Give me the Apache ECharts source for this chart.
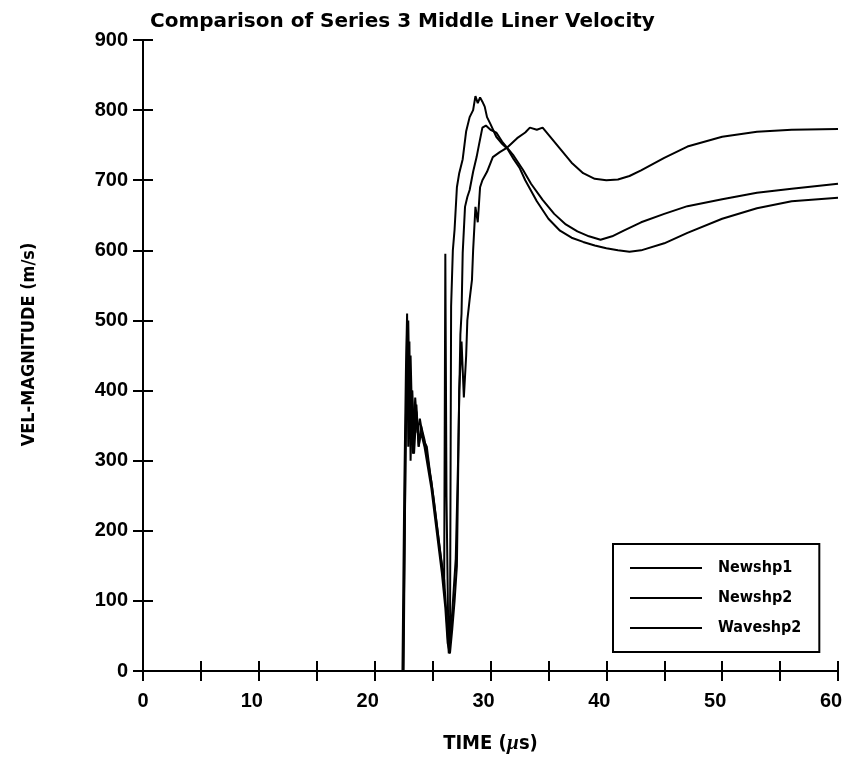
<!DOCTYPE html>
<html>
<head>
<meta charset="utf-8">
<script src="https://cdn.jsdelivr.net/npm/echarts@6/dist/echarts.min.js"></script>
<style>html,body{margin:0;padding:0;background:#fff;}#c{width:848px;height:762px;}</style>
</head>
<body>
<div id="c"></div>
<script>
const titleText = 'Comparison of Series 3 Middle Liner Velocity';
const xName = 'TIME';
const yName = 'VEL-MAGNITUDE (m/s)';
const seriesNames = ['Newshp1', 'Newshp2', 'Waveshp2'];

const timeN1 = [0, 22.4, 22.55, 22.7, 22.8, 22.9, 23.0, 23.1, 23.25, 23.4, 23.6, 23.8, 24.0, 24.3, 24.6, 24.9, 25.2, 25.5, 25.8, 26.0, 26.1, 26.2, 26.35, 26.5, 26.6, 26.75, 26.9, 27.1, 27.3, 27.6, 27.9, 28.2, 28.5, 28.7, 28.9, 29.1, 29.3, 29.5, 29.7, 30.0, 30.5, 31.0, 31.5, 32.0, 32.5, 33.0, 34.0, 35.0, 36.0, 37.0, 38.0, 39.0, 40.0, 41.0, 42.0, 43.0, 45.0, 47.0, 50.0, 53.0, 56.0, 60.0];
const velN1  = [0, 0, 250, 430, 510, 320, 470, 300, 400, 330, 380, 320, 350, 330, 300, 270, 230, 190, 150, 120, 595, 250, 60, 30, 520, 600, 630, 690, 710, 730, 770, 790, 800, 820, 810, 818, 812, 805, 790, 780, 762, 752, 744, 730, 718, 700, 670, 645, 628, 618, 612, 607, 603, 600, 598, 600, 610, 625, 645, 660, 670, 675];

const timeN2 = [0, 22.5, 22.65, 22.8, 22.95, 23.1, 23.3, 23.5, 23.7, 23.9, 24.2, 24.5, 24.8, 25.1, 25.4, 25.7, 26.0, 26.2, 26.4, 26.6, 26.8, 27.0, 27.2, 27.4, 27.5, 27.6, 27.8, 28.0, 28.2, 28.5, 28.8, 29.0, 29.3, 29.6, 30.0, 30.5, 31.0, 31.5, 32.0, 32.8, 33.5, 34.5, 35.5, 36.5, 37.5, 38.5, 39.5, 40.5, 41.5, 43, 45, 47, 50, 53, 56, 60];
const velN2  = [0, 0, 300, 490, 360, 450, 310, 390, 340, 360, 330, 320, 280, 245, 205, 165, 130, 80, 25, 60, 110, 160, 300, 480, 510, 596, 662, 676, 686, 712, 733, 750, 775, 778, 772, 768, 755, 745, 735, 715, 695, 672, 652, 637, 627, 620, 615, 620, 628, 640, 652, 663, 673, 682, 688, 695];

const timeW2 = [0, 22.45, 22.6, 22.75, 22.9, 23.05, 23.2, 23.4, 23.6, 23.8, 24.0, 24.3, 24.6, 24.9, 25.2, 25.5, 25.8, 26.1, 26.3, 26.5, 26.7, 26.9, 27.1, 27.3, 27.5, 27.7, 27.9, 28.0, 28.2, 28.4, 28.5, 28.7, 28.9, 29.1, 29.3, 29.7, 30.2, 30.8, 31.4, 32.3, 33.0, 33.4, 34.0, 34.5, 35.0, 36.0, 37.0, 38.0, 39.0, 40.0, 41.0, 42.0, 43.0, 45.0, 47.0, 50.0, 53.0, 56.0, 60.0];
const velW2  = [0, 0, 200, 420, 500, 340, 400, 310, 370, 320, 340, 320, 290, 260, 220, 180, 140, 90, 40, 25, 60, 100, 150, 400, 470, 390, 450, 500, 530, 558, 600, 662, 640, 690, 700, 712, 733, 740, 746, 760, 768, 775, 772, 775, 765, 745, 725, 710, 702, 700, 701, 706, 714, 732, 748, 762, 769, 772, 773];

const xTicks = [0, 10, 20, 30, 40, 50, 60];
const yTicks = [0, 100, 200, 300, 400, 500, 600, 700, 800, 900];

const pair = (ts, vs) => ts.map((t, i) => [t, vs[i]]);
const condensed = '"DejaVu Sans Condensed", "Liberation Sans Narrow", "DejaVu Sans", sans-serif';
const wideFont = '"DejaVu Sans", "Liberation Sans", sans-serif';
const numFont = '"Liberation Sans", Arial, sans-serif';

const chart = echarts.init(document.getElementById('c'), null, {renderer: 'canvas'});
const axisLine = {show: true, lineStyle: {color: '#000', width: 2}};
const axisTick = {show: true, inside: true, length: 10, lineStyle: {color: '#000', width: 2}};

const mkSeries = (name, ts, vs) => ({
  name, type: 'line', data: pair(ts, vs), xAxisIndex: 0, yAxisIndex: 0,
  symbol: 'none', showSymbol: false, smooth: false,
  lineStyle: {color: '#000', width: 2}, itemStyle: {color: '#000'}
});

chart.setOption({
  animation: false,
  backgroundColor: '#fff',
  title: {
    text: titleText, left: 145, top: 7,
    textStyle: {fontFamily: wideFont, fontWeight: 'bold', fontSize: 20, color: '#000'}
  },
  grid: {left: 143, right: 10, top: 40, bottom: 91},
  legend: {
    data: seriesNames.map(n => ({name: n, icon: 'rect'})),
    orient: 'vertical', left: 613, top: 544,
    padding: [16, 18, 16, 17], itemWidth: 72, itemHeight: 2, itemGap: 14,
    borderColor: '#000', borderWidth: 2, backgroundColor: '#fff',
    itemStyle: {color: '#000'},
    textStyle: {fontFamily: condensed, fontWeight: 'bold', fontSize: 16, color: '#000', padding: [0, 0, 0, 11]}
  },
  xAxis: [{
    type: 'value', min: 0, max: 60, interval: 5, position: 'bottom',
    axisLine, axisTick, splitLine: {show: false},
    axisLabel: {
      margin: 20, color: '#000', fontFamily: numFont, fontWeight: 'bold', fontSize: 20,
      formatter: v => (xTicks.indexOf(v) < 0 ? '' : (v === 0 ? '{z|0}' : '{n|' + v + '}')),
      rich: {z: {fontFamily: numFont, fontWeight: 'bold', fontSize: 20}, n: {fontFamily: numFont, fontWeight: 'bold', fontSize: 20, padding: [0, 14, 0, 0]}}
    },
    name: xName + ' ({m|\u00b5}s)', nameLocation: 'middle', nameGap: 62,
    nameTextStyle: {fontFamily: condensed, fontWeight: 'bold', fontSize: 20, color: '#000',
      rich: {m: {fontFamily: 'serif', fontStyle: 'italic', fontWeight: 'bold', fontSize: 21}}}
  }, {
    type: 'value', min: 0, max: 60, interval: 5, position: 'top',
    axisLine, axisTick, axisLabel: {show: false}, splitLine: {show: false}
  }],
  yAxis: [{
    type: 'value', min: 0, max: 900, interval: 100, position: 'left',
    axisLine, axisTick, splitLine: {show: false},
    axisLabel: {margin: 15, color: '#000', fontFamily: numFont, fontWeight: 'bold', fontSize: 20, padding: [8, 0, 0, 0],
      formatter: v => (yTicks.indexOf(v) < 0 ? '' : String(v))},
    name: yName, nameLocation: 'middle', nameGap: 105, nameRotate: 90,
    nameTextStyle: {fontFamily: condensed, fontWeight: 'bold', fontSize: 18, color: '#000', padding: [0, 0, 0, 22]}
  }, {
    type: 'value', min: 0, max: 900, interval: 100, position: 'right',
    axisLine, axisTick, axisLabel: {show: false}, splitLine: {show: false}
  }],
  series: [
    mkSeries(seriesNames[0], timeN1, velN1),
    mkSeries(seriesNames[1], timeN2, velN2),
    mkSeries(seriesNames[2], timeW2, velW2)
  ]
});
</script>
</body>
</html>
